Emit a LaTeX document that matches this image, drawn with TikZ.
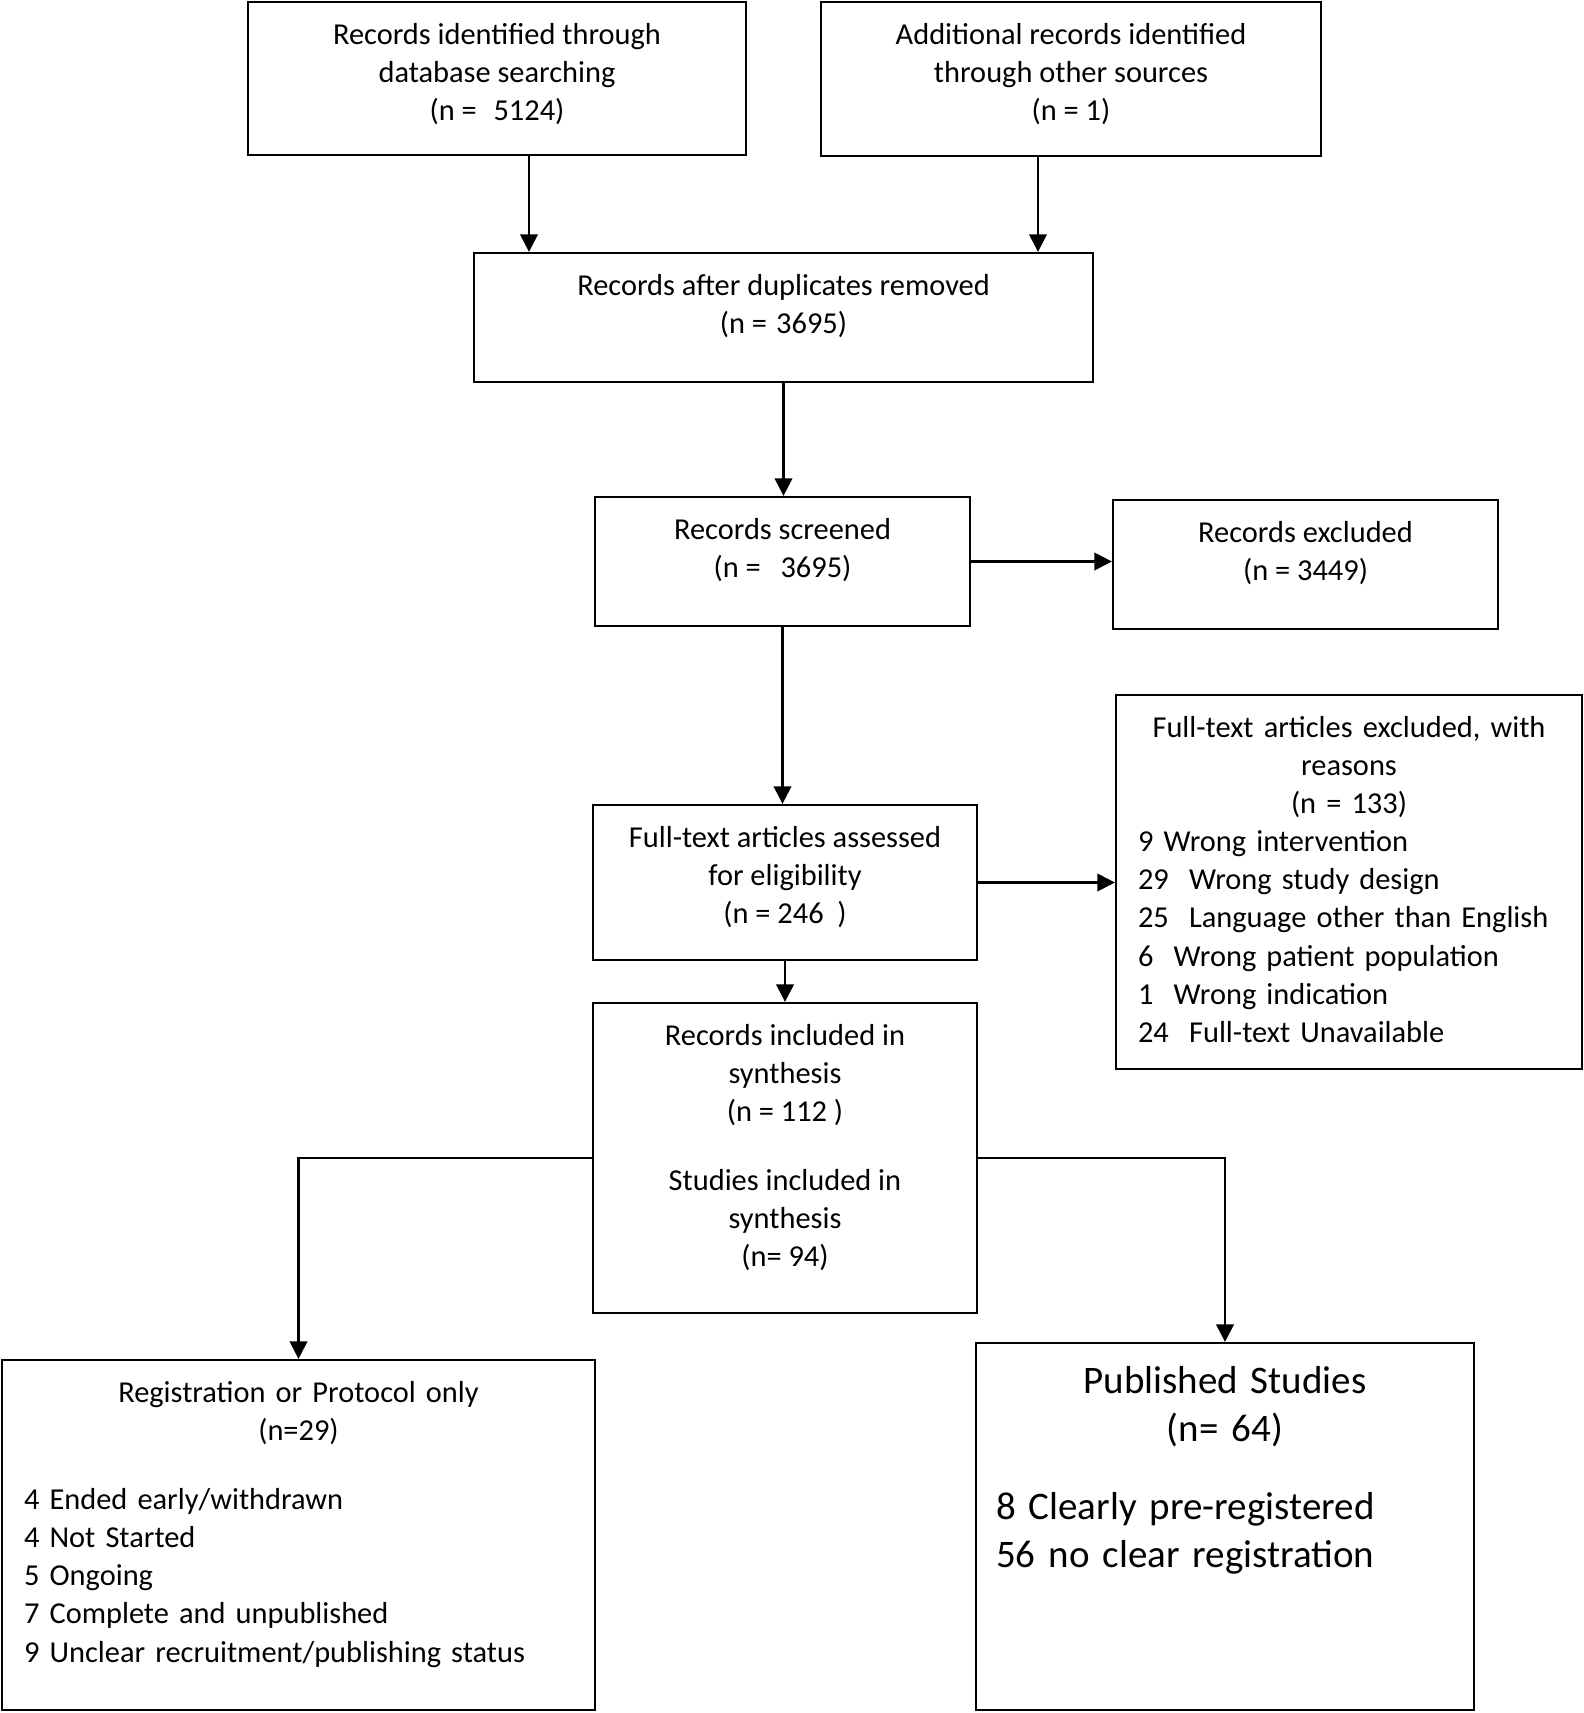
\documentclass[tikz,border=0pt]{standalone}
\usepackage{fontspec}
\setmainfont{Carlito}
\usetikzlibrary{arrows.meta,calc}

\tikzset{
  box/.style={draw,line width=1.3pt,inner sep=0pt},
  txt/.style={anchor=north,inner sep=0pt,font=\fontsize{17.3}{21.7}\selectfont},
  bigtxt/.style={anchor=north,inner sep=0pt,font=\fontsize{22.2}{27.2}\selectfont},
  arr/.style={line width=1.3pt,-{Triangle[width=10pt,length=10pt]}}
}

\begin{document}
\begin{tikzpicture}[x=0.02cm,y=-0.02cm]
\useasboundingbox (0,0) rectangle (1584,1713);

% boxes
\node[box,minimum width=9.96cm,minimum height=3.06cm] (b1) at (497,78.5) {};
\node[box,minimum width=10cm,minimum height=3.08cm] (b2) at (1071,79) {};
\node[box,minimum width=12.38cm,minimum height=2.58cm] (b3) at (783.5,317.5) {};
\node[box,minimum width=7.5cm,minimum height=2.58cm] (b4) at (782.5,561.5) {};
\node[box,minimum width=7.7cm,minimum height=2.58cm] (b5) at (1305.5,564.5) {};
\node[box,minimum width=9.32cm,minimum height=7.48cm] (b6) at (1349,882) {};
\node[box,minimum width=7.68cm,minimum height=3.1cm] (b7) at (785,882.5) {};
\node[box,minimum width=7.68cm,minimum height=6.2cm] (b8) at (785,1158) {};
\node[box,minimum width=11.86cm,minimum height=7cm] (b9) at (298.5,1535) {};
\node[box,minimum width=9.96cm,minimum height=7.34cm] (b10) at (1225,1526.5) {};

% texts
\node[txt,align=center] (t1) at ($(b1.north)+(0,22)$)
  {Records identified through\\database searching\\(n =\hspace{0.55em}5124)};
\node[txt,align=center] (t2) at ($(b2.north)+(0,22)$)
  {Additional records identified\\through other sources\\(n = 1)};
\node[txt,align=center] (t3) at ($(b3.north)+(0,22)$)
  {Records after duplicates removed\\(n =\hspace{0.3em}3695)};
\node[txt,align=center] (t4) at ($(b4.north)+(0,22)$)
  {Records screened\\(n =\hspace{0.65em}3695)};
\node[txt,align=center] (t5) at ($(b5.north)+(0,22)$)
  {Records excluded\\(n = 3449)};
\node[txt,text width=8.44cm] (t6) at ($(b6.north)+(0,22)$)
  {{\centering Full-text articles excluded, with\\reasons\\(n = 133)\par}
   \raggedright 9 Wrong intervention\\
   29\ \ Wrong study design\\
   25\ \ Language other than English\\
   6\ \ Wrong patient population\\
   1\ \ Wrong indication\\
   24\ \ Full-text Unavailable};
\node[txt,align=center] (t7) at ($(b7.north)+(0,22)$)
  {Full-text articles assessed\\for eligibility\\(n = 246\ \ )};
\node[txt,align=center] (t8) at ($(b8.north)+(0,22)$)
  {Records included in\\synthesis\\(n = 112 )\\[0.62cm]Studies included in\\synthesis\\(n= 94)};
\node[txt,text width=10.98cm] (t9) at ($(b9.north)+(0,22)$)
  {{\centering Registration or Protocol only\\(n=29)\par}
   \vspace{0.62cm}
   \raggedright 4 Ended early/withdrawn\\
   4 Not Started\\
   5 Ongoing\\
   7 Complete and unpublished\\
   9 Unclear recruitment/publishing status};
\node[bigtxt,text width=9.16cm] (t10) at ($(b10.north)+(0,24)$)
  {{\centering Published Studies\\(n= 64)\par}
   \vspace{0.62cm}
   \raggedright 8 Clearly pre-registered\\
   56 no clear registration};

% arrows
\coordinate (c1) at ($(b1.south)+(32,0)$);
\coordinate (c2) at ($(b2.south)+(-33,0)$);
\draw[arr] (c1) -- (c1 |- b3.north);
\draw[arr] (c2) -- (c2 |- b3.north);
\draw[arr] (b3.south) -- (b3.south |- b4.north);
\draw[arr] (b4.east) -- (b4.east -| b5.west);
\draw[arr] (b4.south) -- (b4.south |- b7.north);
\draw[arr] (b7.east) -- (b7.east -| b6.west);
\draw[arr] (b7.south) -- (b8.north);
\draw[arr] (b8.west) -| (b9.north);
\draw[arr] (b8.east) -| (b10.north);

\end{tikzpicture}
\end{document}
